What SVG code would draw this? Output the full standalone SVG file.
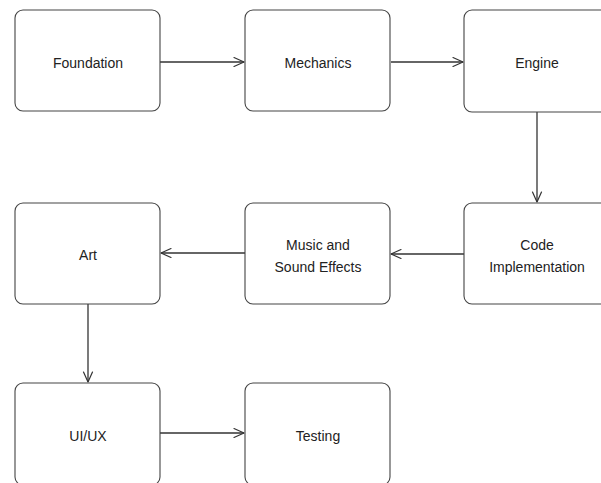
<svg xmlns="http://www.w3.org/2000/svg" width="601" height="483" viewBox="0 0 601 483">
  <defs>
    <marker id="arrow" viewBox="0 0 12 12" refX="11" refY="6" markerWidth="12" markerHeight="12" markerUnits="userSpaceOnUse" orient="auto">
      <path d="M1,1.5 L11,6 L1,10.5" fill="none" stroke="#333" stroke-width="1.2" stroke-linecap="round" stroke-linejoin="round"/>
    </marker>
  </defs>
  <style>
    .box { fill: #ffffff; stroke: #444; stroke-width: 1.1; }
    .label { font-family: "Liberation Sans", Arial, sans-serif; font-size: 14px; fill: #222; text-anchor: middle; }
    .edge { fill: none; stroke: #333; stroke-width: 1.3; marker-end: url(#arrow); }
  </style>
  <rect width="601" height="483" fill="#ffffff"/>

  <g id="connectors">
    <path class="edge" d="M160,62 L244,62"/>
    <path class="edge" d="M391,62 L463,62"/>
    <path class="edge" d="M537,112 L537,202"/>
    <path class="edge" d="M464,254 L391,254"/>
    <path class="edge" d="M245,253 L161,253"/>
    <path class="edge" d="M88,304 L88,382"/>
    <path class="edge" d="M160,433 L244,433"/>
  </g>

  <g id="foundation">
    <rect class="box" x="15" y="10" width="145" height="101" rx="8"/>
    <text class="label" x="88" y="68">Foundation</text>
  </g>
  <g id="mechanics">
    <rect class="box" x="245" y="10" width="145" height="101" rx="8"/>
    <text class="label" x="318" y="68">Mechanics</text>
  </g>
  <g id="engine">
    <rect class="box" x="464" y="10" width="145" height="102" rx="8"/>
    <text class="label" x="537" y="68">Engine</text>
  </g>
  <g id="code-implementation">
    <rect class="box" x="464" y="203" width="145" height="101" rx="8"/>
    <text class="label" x="537" y="250">Code</text>
    <text class="label" x="537" y="272">Implementation</text>
  </g>
  <g id="music-sound">
    <rect class="box" x="245" y="203" width="145" height="101" rx="8"/>
    <text class="label" x="318" y="250">Music and</text>
    <text class="label" x="318" y="272">Sound Effects</text>
  </g>
  <g id="art">
    <rect class="box" x="15" y="203" width="145" height="101" rx="8"/>
    <text class="label" x="88" y="260">Art</text>
  </g>
  <g id="ui-ux">
    <rect class="box" x="15" y="383" width="145" height="102" rx="8"/>
    <text class="label" x="88" y="441">UI/UX</text>
  </g>
  <g id="testing">
    <rect class="box" x="245" y="383" width="145" height="102" rx="8"/>
    <text class="label" x="318" y="441">Testing</text>
  </g>
</svg>
